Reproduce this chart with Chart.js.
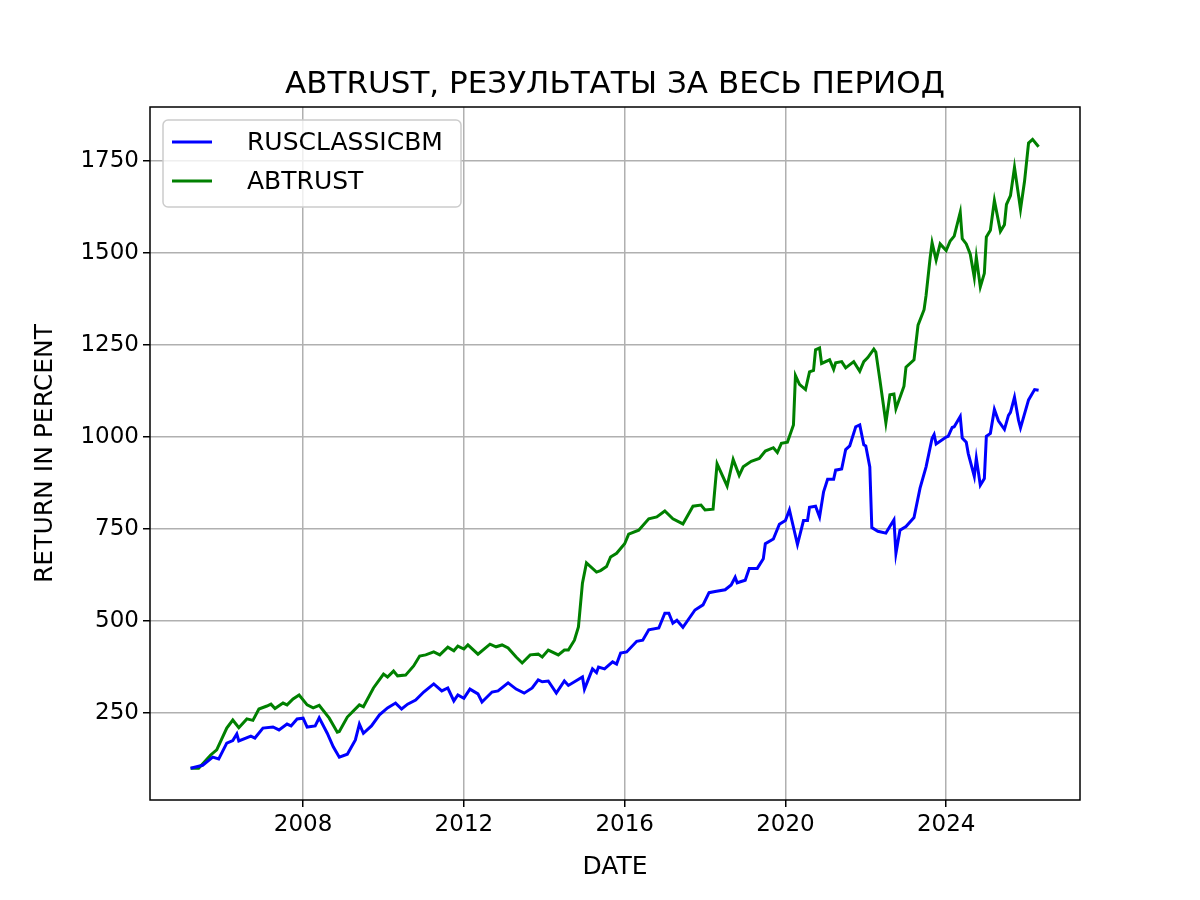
<!DOCTYPE html>
<html>
<head>
<meta charset="utf-8">
<script src="https://cdn.jsdelivr.net/npm/chart.js@4"></script>
<style>
  body { margin: 0; background: #fff; }
  #wrap { width: 1200px; height: 900px; }
</style>
</head>
<body>
<div id="wrap"><canvas id="chart" width="1200" height="900"></canvas></div>
<script>
const chartTitle = 'ABTRUST, РЕЗУЛЬТАТЫ ЗА ВЕСЬ ПЕРИОД';
const seriesNames = ['RUSCLASSICBM', 'ABTRUST'];
const xTicks = [2008, 2012, 2016, 2020, 2024];
const yTicks = [250, 500, 750, 1000, 1250, 1500, 1750];

const benchYears = [2005.2,2005.5,2005.75,2005.9,2006.1,2006.25,2006.35,2006.4,2006.7,2006.8,2007.0,2007.25,2007.4,2007.6,2007.7,2007.85,2008.0,2008.1,2008.3,2008.4,2008.6,2008.75,2008.9,2009.1,2009.3,2009.4,2009.5,2009.7,2009.9,2010.1,2010.3,2010.45,2010.6,2010.8,2011.0,2011.25,2011.45,2011.6,2011.75,2011.85,2012.0,2012.15,2012.35,2012.45,2012.7,2012.85,2013.1,2013.3,2013.5,2013.7,2013.85,2013.95,2014.1,2014.3,2014.5,2014.6,2014.95,2015.0,2015.2,2015.3,2015.35,2015.5,2015.7,2015.8,2015.9,2016.05,2016.3,2016.45,2016.6,2016.85,2017.0,2017.1,2017.2,2017.3,2017.45,2017.75,2017.95,2018.1,2018.25,2018.5,2018.65,2018.75,2018.8,2019.0,2019.1,2019.3,2019.45,2019.5,2019.7,2019.85,2020.0,2020.1,2020.3,2020.45,2020.55,2020.6,2020.75,2020.85,2020.95,2021.05,2021.2,2021.25,2021.4,2021.5,2021.6,2021.75,2021.85,2021.95,2022.0,2022.1,2022.15,2022.3,2022.5,2022.7,2022.75,2022.85,2023.0,2023.2,2023.35,2023.5,2023.65,2023.7,2023.75,2024.0,2024.05,2024.15,2024.2,2024.35,2024.4,2024.5,2024.55,2024.7,2024.75,2024.85,2024.95,2025.0,2025.1,2025.2,2025.3,2025.45,2025.55,2025.6,2025.7,2025.8,2025.85,2026.05,2026.2,2026.3];
const benchValues = [100,108,130,125,168,175,193,174,187,182,209,212,204,220,215,234,236,212,215,237,195,158,130,138,177,220,195,215,245,264,277,261,274,285,307,329,310,318,283,299,290,315,302,280,307,310,332,315,304,318,340,335,337,304,337,325,348,315,370,360,375,370,389,383,413,416,445,448,476,481,521,521,494,502,483,530,544,577,580,585,598,619,604,611,643,643,669,710,723,763,773,802,708,773,773,809,812,783,851,885,885,910,913,966,976,1028,1033,979,976,919,754,744,739,775,684,747,757,781,861,919,997,1007,981,1000,1002,1026,1028,1056,997,986,955,893,942,869,887,1002,1010,1075,1044,1021,1059,1067,1108,1046,1025,1101,1129,1127];

const trustYears = [2005.2,2005.4,2005.7,2005.85,2006.1,2006.25,2006.4,2006.6,2006.75,2006.9,2007.1,2007.2,2007.3,2007.5,2007.6,2007.75,2007.9,2008.1,2008.25,2008.4,2008.65,2008.85,2008.9,2009.1,2009.4,2009.5,2009.75,2010.0,2010.1,2010.25,2010.35,2010.55,2010.75,2010.9,2011.05,2011.25,2011.4,2011.6,2011.75,2011.85,2012.0,2012.1,2012.35,2012.65,2012.8,2012.95,2013.1,2013.3,2013.45,2013.65,2013.85,2013.95,2014.1,2014.35,2014.5,2014.6,2014.75,2014.85,2014.95,2015.05,2015.3,2015.4,2015.55,2015.65,2015.8,2016.0,2016.1,2016.35,2016.6,2016.8,2017.0,2017.2,2017.45,2017.7,2017.9,2018.0,2018.2,2018.3,2018.55,2018.7,2018.85,2018.95,2019.15,2019.35,2019.5,2019.7,2019.8,2019.9,2020.05,2020.2,2020.25,2020.35,2020.5,2020.6,2020.7,2020.75,2020.85,2020.9,2021.1,2021.2,2021.25,2021.4,2021.5,2021.7,2021.85,2021.95,2022.05,2022.2,2022.25,2022.35,2022.5,2022.6,2022.7,2022.75,2022.95,2023.0,2023.2,2023.3,2023.45,2023.5,2023.6,2023.65,2023.75,2023.85,2024.0,2024.1,2024.2,2024.35,2024.4,2024.5,2024.6,2024.7,2024.75,2024.85,2024.95,2025.0,2025.1,2025.2,2025.35,2025.45,2025.5,2025.6,2025.7,2025.85,2025.95,2026.05,2026.15,2026.3];
const trustValues = [100,100,136,150,209,231,210,234,230,261,269,274,262,277,272,288,299,272,264,271,236,198,200,239,272,267,318,356,348,364,351,353,378,405,408,416,408,429,419,432,424,435,410,437,430,435,427,402,386,408,410,402,421,408,421,421,448,484,603,658,633,637,648,674,684,710,736,747,778,783,799,778,764,812,815,802,804,927,867,939,896,919,934,942,962,971,958,983,986,1033,1167,1143,1129,1177,1181,1237,1242,1200,1210,1184,1202,1205,1188,1205,1179,1205,1216,1239,1231,1156,1039,1115,1117,1077,1138,1190,1210,1304,1346,1385,1486,1528,1481,1525,1507,1533,1546,1611,1539,1525,1497,1434,1489,1408,1445,1544,1562,1643,1559,1577,1632,1656,1733,1619,1695,1799,1809,1789];

const seriesColors = ['#0000ff', '#008000'];
const font = 'DejaVu Sans';

function toPoints(xs, ys) {
  return xs.map((x, i) => ({ x: x, y: ys[i] }));
}

const frameAndLegend = {
  id: 'frameAndLegend',
  afterDraw(chart) {
    const ctx = chart.ctx;
    const a = chart.chartArea;
    ctx.save();
    ctx.strokeStyle = '#000';
    ctx.lineWidth = 1.5;
    ctx.strokeRect(a.left, a.top, a.right - a.left, a.bottom - a.top);
    // title
    ctx.fillStyle = '#000';
    ctx.font = '31px "' + font + '"';
    ctx.textAlign = 'center';
    ctx.textBaseline = 'alphabetic';
    ctx.fillText(chartTitle, (a.left + a.right) / 2, 93);
    // legend box
    const bx = a.left + 13, by = a.top + 13, bw = 298, bh = 87;
    ctx.fillStyle = 'rgba(255,255,255,0.8)';
    ctx.strokeStyle = '#cccccc';
    ctx.lineWidth = 1.5;
    ctx.beginPath();
    ctx.roundRect(bx, by, bw, bh, 5);
    ctx.fill();
    ctx.stroke();
    ctx.font = '25px "' + font + '"';
    ctx.textAlign = 'left';
    ctx.textBaseline = 'middle';
    seriesNames.forEach((name, i) => {
      const y = by + 22 + i * 39;
      ctx.strokeStyle = seriesColors[i];
      ctx.lineWidth = 3;
      ctx.beginPath();
      ctx.moveTo(bx + 9, y);
      ctx.lineTo(bx + 49, y);
      ctx.stroke();
      ctx.fillStyle = '#000';
      ctx.fillText(name, bx + 84, y + 1);
    });
    ctx.restore();
  }
};

new Chart(document.getElementById('chart'), {
  type: 'line',
  data: {
    datasets: [
      { label: seriesNames[0], data: toPoints(benchYears, benchValues), borderColor: seriesColors[0], borderWidth: 3, pointRadius: 0, tension: 0, fill: false },
      { label: seriesNames[1], data: toPoints(trustYears, trustValues), borderColor: seriesColors[1], borderWidth: 3, pointRadius: 0, tension: 0, fill: false }
    ]
  },
  options: {
    responsive: false,
    animation: false,
    layout: { padding: { left: 26, top: 107, right: 120, bottom: 16 } },
    plugins: { legend: { display: false }, title: { display: false }, tooltip: { enabled: false } },
    scales: {
      x: {
        type: 'linear',
        min: 2004.19,
        max: 2027.33,
        afterBuildTicks: s => { s.ticks = xTicks.map(v => ({ value: v })); },
        afterFit: s => { s.height = 84; },
        grid: { color: '#b0b0b0', lineWidth: 1.5, drawTicks: true, tickLength: 7, tickColor: '#000' },
        border: { display: false },
        ticks: { color: '#000', font: { family: font, size: 23 }, padding: 4, maxRotation: 0, callback: v => String(v) },
        title: { display: true, text: 'DATE', color: '#000', font: { family: font, size: 25 }, padding: { top: 2, bottom: 2 } }
      },
      y: {
        min: 13.6,
        max: 1897,
        afterBuildTicks: s => { s.ticks = yTicks.map(v => ({ value: v })); },
        afterFit: s => { s.width = 124; },
        grid: { color: '#b0b0b0', lineWidth: 1.5, drawTicks: true, tickLength: 7, tickColor: '#000' },
        border: { display: false },
        ticks: { color: '#000', font: { family: font, size: 23 }, padding: 4, callback: v => String(v) },
        title: { display: true, text: 'RETURN IN PERCENT', color: '#000', font: { family: font, size: 25 }, padding: { bottom: 2 } }
      }
    }
  },
  plugins: [frameAndLegend]
});
</script>
</body>
</html>
